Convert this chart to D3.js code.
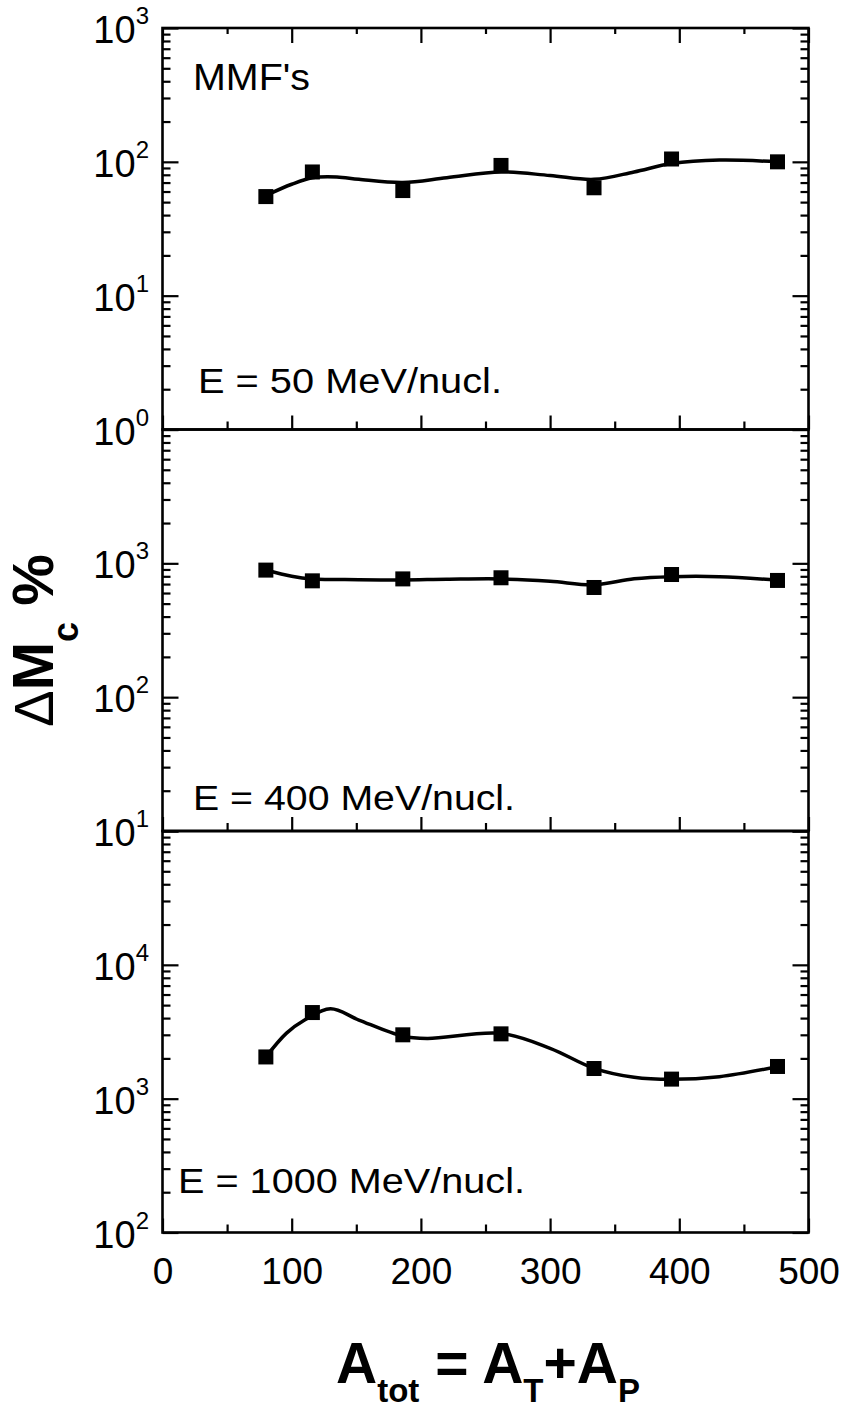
<!DOCTYPE html>
<html>
<head>
<meta charset="utf-8">
<script src="https://cdnjs.cloudflare.com/ajax/libs/d3/7.8.5/d3.min.js"></script>
<style>
  body { margin: 0; background: #fff; }
  svg { display: block; font-family: 'Liberation Sans', Arial, sans-serif; }
</style>
</head>
<body>
<div id="chart"></div>
<script>
'use strict';

// A_tot of the symmetric systems
var massNumbers = [80, 116, 186, 262, 334, 394, 476];

// Delta M_c (%) for each beam energy
var deltaMc50 = [55, 84, 61, 94, 64, 105, 100];
var deltaMc400 = [890, 740, 765, 780, 660, 825, 745];
var deltaMc1000 = [2050, 4400, 3000, 3050, 1680, 1400, 1740];

// smooth guide curves
var fitMass50 = [80, 100, 116, 135, 152, 186, 220, 262, 300, 334, 365, 394, 431, 476];
var fit50 = [56, 68, 76, 77, 74, 70, 76, 84, 79, 74, 84, 97, 103, 100];
var fitMass400 = [80, 100, 116, 152, 186, 220, 262, 300, 334, 365, 394, 431, 476];
var fit400 = [891, 800, 764, 755, 752, 760, 764, 735, 692, 767, 795, 795, 748];
var fitMass1000 = [80, 96, 110, 130, 152, 186, 205, 262, 300, 334, 365, 394, 431, 476];
var fit1000 = [2050, 3090, 3870, 4700, 3870, 2930, 2820, 3075, 2380, 1686, 1445, 1395, 1460, 1733];

var energyLabels = ['E = 50 MeV/nucl.', 'E = 400 MeV/nucl.', 'E = 1000 MeV/nucl.'];
var yDomains = [[1, 1e3], [10, 1e4], [100, 1e5]];
var xMajorTicks = [0, 100, 200, 300, 400, 500];
var xMinorTicks = [50, 150, 250, 350, 450];

var W = 846, H = 1411;
var left = 162.5, right = 808.5;
var panelTops = [28, 429.5, 831];
var panelH = 401.5;

var svg = d3.select('#chart').append('svg')
  .attr('width', W)
  .attr('height', H);

var x = d3.scaleLinear().domain([0, 500]).range([left, right]);

var panels = [
  {points: deltaMc50, fitX: fitMass50, fitY: fit50, label: energyLabels[0], labelX: 198, labelY: 393, labelW: 304},
  {points: deltaMc400, fitX: fitMass400, fitY: fit400, label: energyLabels[1], labelX: 193, labelY: 810, labelW: 322},
  {points: deltaMc1000, fitX: fitMass1000, fitY: fit1000, label: energyLabels[2], labelX: 178, labelY: 1193, labelW: 347}
];

function minorTicks(domain) {
  var out = [];
  for (var e = Math.log10(domain[0]); e < Math.log10(domain[1]); e++) {
    for (var m = 2; m <= 9; m++) out.push(m * Math.pow(10, e));
  }
  return out;
}

function majorTicks(domain) {
  var out = [];
  for (var e = Math.log10(domain[0]); e <= Math.log10(domain[1]); e++) out.push(Math.pow(10, e));
  return out;
}

function styleAxis(g) {
  g.select('.domain').remove();
  g.selectAll('line').attr('stroke', '#000').attr('stroke-width', 2.2);
}

panels.forEach(function(p, i) {
  var top = panelTops[i], bottom = top + panelH;
  var y = d3.scaleLog().domain(yDomains[i]).range([bottom, top]);
  var g = svg.append('g');

  // y ticks, inward on both sides
  g.append('g').attr('transform', 'translate(' + left + ',0)')
    .call(d3.axisLeft(y).tickValues(majorTicks(yDomains[i])).tickSize(-16).tickFormat(''))
    .call(styleAxis);
  g.append('g').attr('transform', 'translate(' + left + ',0)')
    .call(d3.axisLeft(y).tickValues(minorTicks(yDomains[i])).tickSize(-8).tickFormat(''))
    .call(styleAxis);
  g.append('g').attr('transform', 'translate(' + right + ',0)')
    .call(d3.axisRight(y).tickValues(majorTicks(yDomains[i])).tickSize(-16).tickFormat(''))
    .call(styleAxis);
  g.append('g').attr('transform', 'translate(' + right + ',0)')
    .call(d3.axisRight(y).tickValues(minorTicks(yDomains[i])).tickSize(-8).tickFormat(''))
    .call(styleAxis);

  // x ticks along the bottom of each panel
  g.append('g').attr('transform', 'translate(0,' + bottom + ')')
    .call(d3.axisBottom(x).tickValues(xMajorTicks).tickSize(-14).tickFormat(''))
    .call(styleAxis);
  g.append('g').attr('transform', 'translate(0,' + bottom + ')')
    .call(d3.axisBottom(x).tickValues(xMinorTicks).tickSize(-8).tickFormat(''))
    .call(styleAxis);

  if (i === 0) {
    g.append('g').attr('transform', 'translate(0,' + top + ')')
      .call(d3.axisTop(x).tickValues(xMajorTicks).tickSize(-15).tickFormat(''))
      .call(styleAxis);
    g.append('g').attr('transform', 'translate(0,' + top + ')')
      .call(d3.axisTop(x).tickValues(xMinorTicks).tickSize(-6).tickFormat(''))
      .call(styleAxis);
  }

  g.append('rect')
    .attr('x', left).attr('y', top)
    .attr('width', right - left).attr('height', panelH)
    .attr('fill', 'none').attr('stroke', '#000').attr('stroke-width', 2.6);

  // decade labels; the top one is shared with the panel above
  var decades = majorTicks(yDomains[i]).filter(function(v, k, arr) {
    return i === 0 || k < arr.length - 1;
  });
  decades.forEach(function(v) {
    var t = g.append('text')
      .attr('x', 149)
      .attr('y', y(v) + 15)
      .attr('text-anchor', 'end')
      .attr('font-size', 38);
    t.append('tspan').text('10');
    t.append('tspan').attr('dy', -19).attr('font-size', 24).text(Math.round(Math.log10(v)));
  });

  // guide curve
  var fitData = p.fitX.map(function(a, k) { return {a: a, v: p.fitY[k]}; });
  g.append('path')
    .datum(fitData)
    .attr('fill', 'none')
    .attr('stroke', '#000')
    .attr('stroke-width', 3.5)
    .attr('d', d3.line()
      .x(function(d) { return x(d.a); })
      .y(function(d) { return y(d.v); })
      .curve(d3.curveCatmullRom));

  // data points
  var s = 15;
  g.selectAll('rect.pt')
    .data(massNumbers.map(function(a, k) { return {a: a, v: p.points[k]}; }))
    .enter().append('rect')
    .attr('class', 'pt')
    .attr('x', function(d) { return x(d.a) - s / 2; })
    .attr('y', function(d) { return y(d.v) - s / 2; })
    .attr('width', s).attr('height', s)
    .attr('fill', '#000');

  g.append('text')
    .attr('x', p.labelX)
    .attr('y', p.labelY)
    .attr('font-size', 35)
    .attr('textLength', p.labelW)
    .attr('lengthAdjust', 'spacingAndGlyphs')
    .text(p.label);
});

svg.append('text')
  .attr('x', 193).attr('y', 90)
  .attr('font-size', 37)
  .attr('textLength', 117)
  .attr('lengthAdjust', 'spacingAndGlyphs')
  .text("MMF's");

// x tick labels
var xLab = svg.append('g')
  .attr('transform', 'translate(0,' + (panelTops[2] + panelH) + ')')
  .call(d3.axisBottom(x).tickValues(xMajorTicks).tickSize(0).tickPadding(25).tickFormat(d3.format('d')));
xLab.select('.domain').remove();
xLab.attr('font-family', null).attr('font-size', 37);
xLab.selectAll('text').attr('fill', '#000');

// axis titles
var xt = svg.append('text')
  .attr('x', 336).attr('y', 1383)
  .attr('font-weight', 'bold')
  .attr('font-size', 57);
xt.append('tspan').text('A');
xt.append('tspan').attr('font-size', 33).attr('dy', 19).text('tot');
xt.append('tspan').attr('dy', -19).text(' = A');
xt.append('tspan').attr('font-size', 33).attr('dy', 19).text('T');
xt.append('tspan').attr('dy', -19).text('+A');
xt.append('tspan').attr('font-size', 33).attr('dy', 19).text('P');

var yt = svg.append('text')
  .attr('transform', 'translate(53,727) rotate(-90)')
  .attr('font-size', 58)
  .attr('font-weight', 'bold');
yt.append('tspan').attr('font-weight', 'normal').attr('font-size', 55).text('\u0394');
yt.append('tspan').text('M');
yt.append('tspan').attr('font-size', 36).attr('dy', 25).text('c');
yt.append('tspan').attr('dy', -25).text(' %');
</script>
</body>
</html>
